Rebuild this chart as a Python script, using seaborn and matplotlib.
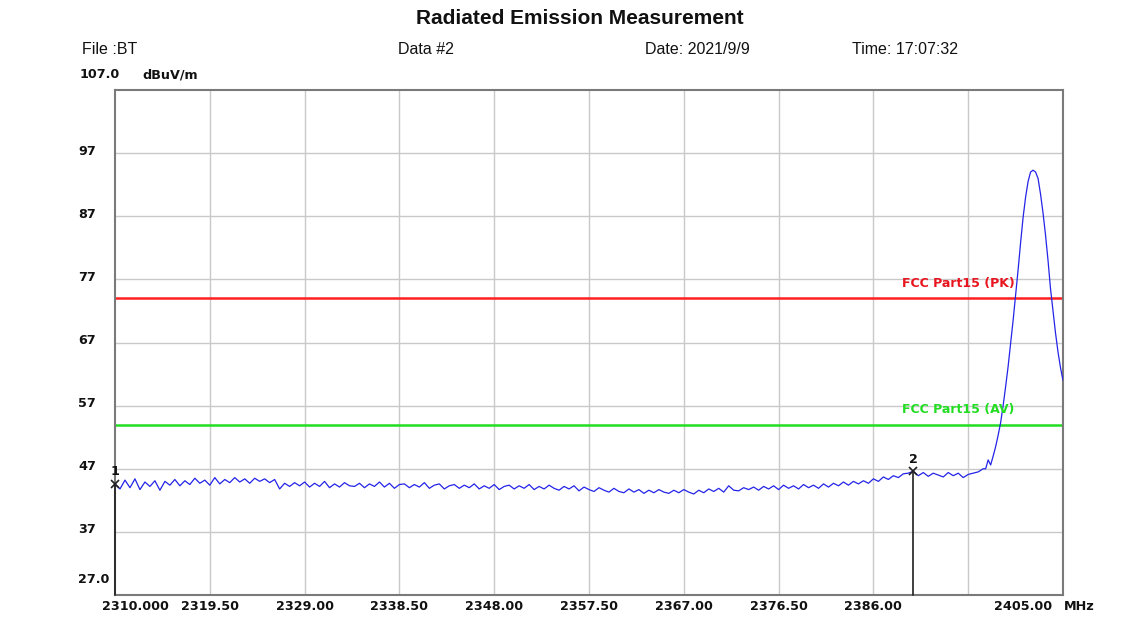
import numpy as np
import pandas as pd
import matplotlib
matplotlib.use("Agg")
import matplotlib.pyplot as plt
import matplotlib.transforms as mtransforms
import seaborn as sns

# ---------------- data ----------------
base_start = 2310.0
base_step = 0.5
base_level = [
    44.6, 43.8, 45.2, 44.0, 45.4, 43.7, 44.9, 44.2, 45.1, 43.6,
    45.0, 44.4, 45.3, 44.3, 45.1, 44.5, 45.5, 44.7, 45.2, 44.4,
    45.6, 44.6, 45.3, 44.8, 45.6, 44.9, 45.4, 44.7, 45.5, 45.0,
    45.4, 44.8, 45.3, 43.8, 44.7, 44.2, 44.8, 44.3, 44.9, 44.1,
    44.7, 44.2, 45.0, 44.0, 44.6, 44.1, 44.8, 44.3, 44.2, 44.7,
    44.0, 44.6, 44.2, 44.9, 44.1, 44.7, 43.9, 44.5, 44.6, 44.0,
    44.5, 44.1, 44.8, 43.9, 44.4, 44.6, 43.8, 44.3, 44.5, 43.9,
    44.4, 44.0, 44.6, 43.8, 44.3, 43.9, 44.5, 43.7, 44.2, 44.4,
    43.8, 44.3, 43.9, 44.5, 43.7, 44.2, 43.8, 44.4, 43.9, 43.6,
    44.2, 43.8, 44.3, 43.5, 44.1, 43.7, 43.4, 44.0, 43.6, 43.3,
    43.9, 43.4, 43.2, 43.8, 43.3, 43.7, 43.1, 43.6, 43.2, 43.7,
    43.3, 43.1, 43.6, 43.2, 43.7, 43.3, 43.0, 43.6, 43.2, 43.8,
    43.4, 43.9, 43.3, 44.3, 43.6, 43.5, 44.0, 43.7, 44.1, 43.6,
    44.2, 43.8, 44.3, 43.7, 44.4, 43.9, 44.3, 43.8, 44.5, 44.0,
    44.4, 43.9, 44.6, 44.1, 44.7, 44.3, 44.9, 44.4, 45.0, 44.6,
    45.1, 44.7, 45.4, 45.0, 45.7, 45.3, 45.9, 45.6, 46.2, 46.3,
    46.6, 45.9, 46.4, 45.8, 46.3, 46.0, 45.7, 46.4, 45.9, 46.3,
    45.6, 46.1, 46.3, 46.5, 47.0,
]
peak_freq = [
    2397.25, 2397.5, 2397.75, 2398.0, 2398.25, 2398.5, 2398.75, 2399.0,
    2399.25, 2399.5, 2399.75, 2400.0, 2400.25, 2400.5, 2400.75, 2401.0,
    2401.25, 2401.5, 2401.75, 2402.0, 2402.25, 2402.5, 2402.75, 2403.0,
    2403.25, 2403.5, 2403.75, 2404.0, 2404.25, 2404.5, 2404.75, 2405.0,
]
peak_level = [
    47.0, 48.4, 47.6, 49.0, 50.5, 52.3, 54.3, 57.0,
    60.0, 63.2, 66.8, 70.5, 74.5, 78.5, 82.8, 86.8,
    90.0, 92.5, 94.0, 94.3, 94.0, 93.0, 90.5, 87.5,
    84.0, 80.0, 75.5, 72.0, 68.5, 65.5, 63.0, 61.0,
]
limit_pk = 74.0
limit_av = 54.0
marker_freq = [2310.0, 2390.0]
marker_level = [44.6, 46.6]
marker_label = ["1", "2"]

x_ticks = [2310.0, 2319.5, 2329.0, 2338.5, 2348.0, 2357.5, 2367.0, 2376.5, 2386.0, 2395.5, 2405.0]
x_tick_labels = ["2310.000", "2319.50", "2329.00", "2338.50", "2348.00", "2357.50",
                 "2367.00", "2376.50", "2386.00", "", "2405.00"]
y_ticks = [37, 47, 57, 67, 77, 87, 97]
y_tick_labels = ["37", "47", "57", "67", "77", "87", "97"]
y_min, y_max = 27.0, 107.0

# ---------------- build table ----------------
base_freq = base_start + base_step * np.arange(len(base_level))
df = pd.DataFrame({
    "freq": np.concatenate([base_freq, np.array(peak_freq)]),
    "level": np.concatenate([np.array(base_level), np.array(peak_level)]),
})

# ---------------- plot ----------------
sns.set_style("white")
plt.rcParams["font.family"] = ["Liberation Sans", "DejaVu Sans"]
TICKFONT = dict(family=["DejaVu Sans"], fontweight="bold", fontsize=9.2, color="#111111")

W, H = 1144, 619
fig = plt.figure(figsize=(W / 100, H / 100), dpi=100)
L, R, T, B = 115, 1063, 90, 595
ax = fig.add_axes([L / W, 1 - B / H, (R - L) / W, (B - T) / H])

ax.set_xlim(x_ticks[0], x_ticks[-1])
ax.set_ylim(y_min, y_max)

for xv in x_ticks[1:-1]:
    ax.axvline(xv, color="#c9c9c9", lw=1.0, zorder=0)
for yv in y_ticks:
    ax.axhline(yv, color="#c9c9c9", lw=1.0, zorder=0)

ax.axhline(limit_pk, color="#ff2020", lw=1.8, zorder=2)
ax.axhline(limit_av, color="#22dd22", lw=1.8, zorder=2)

sns.lineplot(data=df, x="freq", y="level", ax=ax, color="#2424e8", lw=0.9,
             estimator=None, sort=False, zorder=3)

for mf, ml, lab in zip(marker_freq, marker_level, marker_label):
    ax.plot([mf, mf], [y_min, ml], color="#202020", lw=1.2, zorder=4, clip_on=False)
    ax.plot(mf, ml, marker="x", color="#202020", ms=6, mew=1.2, zorder=5, clip_on=False)
    ax.annotate(lab, (mf, ml), xytext=(0, 4), textcoords="offset points",
                ha="center", va="bottom", clip_on=False, **TICKFONT)

ax.text(2400.15, limit_pk + 1.3, "FCC Part15 (PK)", color="#e8141e", fontsize=9,
        family=["DejaVu Sans"], fontweight="bold", ha="right", va="bottom", zorder=6)
ax.text(2400.15, limit_av + 1.3, "FCC Part15 (AV)", color="#22dd22", fontsize=9,
        family=["DejaVu Sans"], fontweight="bold", ha="right", va="bottom", zorder=6)

ax.set_xticks([])
ax.set_yticks([])
ax.set_xlabel("")
ax.set_ylabel("")
for s in ax.spines.values():
    s.set_color("#7a7a7a")
    s.set_linewidth(1.5)

# tick labels
bt = mtransforms.blended_transform_factory(ax.transData, fig.transFigure)
xlab_y = 1 - 607 / H
x_label_pos = {0: 2312.0, 10: 2401.0}
for i, (xv, lab) in enumerate(zip(x_ticks, x_tick_labels)):
    if not lab:
        continue
    ax.text(x_label_pos.get(i, xv), xlab_y, lab, transform=bt, ha="center", va="center",
            clip_on=False, **TICKFONT)
ax.text(2406.6, xlab_y, "MHz", transform=bt, ha="center", va="center",
        clip_on=False, **TICKFONT)

by = mtransforms.blended_transform_factory(fig.transFigure, ax.transData)
for yv, lab in zip(y_ticks, y_tick_labels):
    ax.text(78 / W, yv + 0.3, lab, transform=by, ha="left", va="center",
            clip_on=False, **TICKFONT)
ax.text(78 / W, y_min + 2.4, "27.0", transform=by, ha="left", va="center",
        clip_on=False, **TICKFONT)

# header
fig.text(580 / W, 1 - 18 / H, "Radiated Emission Measurement", ha="center", va="center",
         fontsize=15, fontweight="bold", color="#111111")
hy = 1 - 50 / H
fs_h = 11.5
fig.text(82 / W, hy, "File :BT", ha="left", va="center", fontsize=fs_h, color="#111111")
fig.text(398 / W, hy, "Data #2", ha="left", va="center", fontsize=fs_h, color="#111111")
fig.text(645 / W, hy, "Date: 2021/9/9", ha="left", va="center", fontsize=fs_h, color="#111111")
fig.text(852 / W, hy, "Time: 17:07:32", ha="left", va="center", fontsize=fs_h, color="#111111")
uy = 1 - 75 / H
fig.text(80 / W, uy, "107.0", ha="left", va="center", **TICKFONT)
fig.text(142 / W, uy, "dBuV/m", ha="left", va="center", **TICKFONT)

fig.savefig("out.png", dpi=100, facecolor="white")
